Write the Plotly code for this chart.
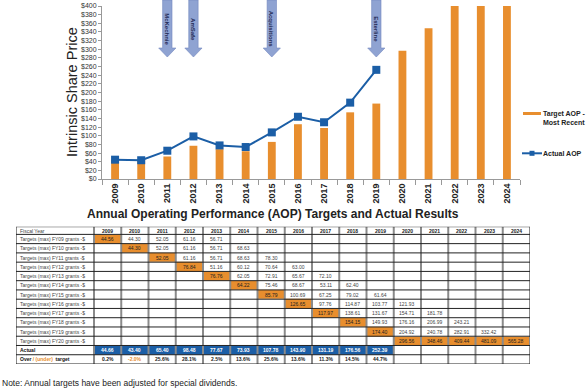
import plotly.graph_objects as go

# ---------------- data ----------------
years = [2009, 2010, 2011, 2012, 2013, 2014, 2015, 2016,
         2017, 2018, 2019, 2020, 2021, 2022, 2023, 2024]
year_labels = [str(y) for y in years]

target_recent = [44.56, 44.30, 52.05, 76.84, 69.0, 64.22, 85.79, 126.65,
                 117.97, 154.15, 174.40, 296.56, 348.46, 409.44, 481.09, 565.28]

actual_years = years[:11]
actual_aop = [44.66, 43.40, 65.40, 98.48, 77.67, 73.93, 107.78, 143.90,
              131.19, 176.56, 252.39]

events = ["McKechnie", "AmSafe", "Acquisitions", "Esterline"]
event_years = [2011, 2012, 2015, 2019]

series_names = ["Target AOP -<br>Most Recent", "Actual AOP"]

# table: each grant row starts at its own fiscal year, 5 values
grant_labels = ["Targets (max) FY%02d grants -$" % k for k in range(9, 21)]
grant_start = list(range(2009, 2021))
grant_values = [
    [44.56, 44.30, 52.05, 61.16, 56.71],
    [44.30, 52.05, 61.16, 56.71, 68.63],
    [52.05, 61.16, 56.71, 68.63, 78.30],
    [76.84, 51.16, 60.12, 70.64, 63.00],
    [76.76, 62.05, 72.91, 65.67, 72.10],
    [64.22, 75.46, 68.67, 53.11, 62.40],
    [85.79, 100.69, 67.25, 79.02, 61.64],
    [126.65, 97.76, 114.87, 103.77, 121.93],
    [117.97, 138.61, 131.67, 154.71, 181.78],
    [154.15, 149.93, 176.16, 206.99, 243.21],
    [174.40, 204.92, 240.78, 282.91, 332.42],
    [296.56, 348.46, 409.44, 481.09, 565.28],
]
over_under = ["0.2%", "-2.0%", "25.6%", "28.1%", "2.5%", "13.6%",
              "25.6%", "13.6%", "11.3%", "14.5%", "44.7%"]

ORANGE = "#E88E2E"
BLUE = "#1B5EA6"
ARROW = "#8FA3D2"
FONT = "Arial, Liberation Sans, sans-serif"
W, H = 588, 389


def px_x(p):
    return p / W


def px_y(p):
    return 1 - p / H


fig = go.Figure()

# ---------------- top chart ----------------
fig.add_trace(go.Bar(
    x=years, y=target_recent, name=series_names[0],
    marker=dict(color=ORANGE, line=dict(width=0)), width=0.3,
    hoverinfo="skip", showlegend=False))
fig.add_trace(go.Scatter(
    x=actual_years, y=actual_aop, name=series_names[1], mode="lines+markers",
    line=dict(color=BLUE, width=2),
    marker=dict(symbol="square", size=8, color=BLUE),
    hoverinfo="skip", showlegend=False))

shapes = []
annotations = []
hw, hh = 0.18, 0.33
yb, yt = px_y(48), px_y(57)
for name, ey in zip(events, event_years):
    path = (f"M {ey-hw},1 L {ey+hw},1 L {ey+hw},{yb} L {ey+hh},{yb} "
            f"L {ey},{yt} L {ey-hh},{yb} L {ey-hw},{yb} Z")
    shapes.append(dict(type="path", path=path, xref="x", yref="paper",
                       fillcolor=ARROW, line=dict(color="#7488C0", width=0.6),
                       layer="above"))
    annotations.append(dict(text="<b>%s</b>" % name, x=ey, xref="x",
                            y=px_y(29.5), yref="paper", textangle=90,
                            xanchor="center", yanchor="middle",
                            showarrow=False,
                            font=dict(family=FONT, size=6, color="#1F2A55")))

# y axis title
annotations.append(dict(text="Intrinsic Share Price", x=px_x(72), y=px_y(92),
                        xref="paper", yref="paper", textangle=-90,
                        xanchor="center", yanchor="middle",
                        showarrow=False,
                        font=dict(family=FONT, size=14.5, color="#222")))

# legend keys (drawn in paper space, right of the plot)
shapes.append(dict(type="rect", xref="paper", yref="paper",
                   x0=px_x(523), x1=px_x(541), y0=px_y(115), y1=px_y(112),
                   fillcolor=ORANGE, line=dict(width=0)))
shapes.append(dict(type="line", xref="paper", yref="paper",
                   x0=px_x(522), x1=px_x(542), y0=px_y(153.3), y1=px_y(153.3),
                   line=dict(color=BLUE, width=2)))
shapes.append(dict(type="rect", xref="paper", yref="paper",
                   x0=px_x(529.5), x1=px_x(534.5), y0=px_y(155.8), y1=px_y(150.8),
                   fillcolor=BLUE, line=dict(width=0)))
annotations.append(dict(text="<b>%s</b>" % series_names[0], x=px_x(540.5),
                        y=px_y(108), xref="paper", yref="paper",
                        xanchor="left", yanchor="top", align="left",
                        showarrow=False,
                        font=dict(family=FONT, size=7, color="#222")))
annotations.append(dict(text="<b>%s</b>" % series_names[1], x=px_x(540.5),
                        y=px_y(153.3), xref="paper", yref="paper",
                        xanchor="left", yanchor="middle", showarrow=False,
                        font=dict(family=FONT, size=7, color="#222")))

# ---------------- table (heatmap of cell fills) ----------------
L = 78 / 27.25
x_edges = [0, L] + [L + i + 1 for i in range(len(years))]
hdr = 0.83
n_rows = 1 + len(grant_labels) + 2
y_edges = [0, hdr] + [hdr + i + 1 for i in range(n_rows - 1)]

z = [[0] * (len(years) + 1) for _ in range(n_rows)]
cell_text = [[""] * (len(years) + 1) for _ in range(n_rows)]
cell_color = [["#444"] * (len(years) + 1) for _ in range(n_rows)]

cell_text[0][0] = "Fiscal Year"
for j, yl in enumerate(year_labels):
    cell_text[0][j + 1] = "<b>%s</b>" % yl
    cell_color[0][j + 1] = "#222"
for r, (lab, st, vals) in enumerate(zip(grant_labels, grant_start, grant_values)):
    row = r + 1
    cell_text[row][0] = lab
    for k, v in enumerate(vals):
        col = years.index(st) + k + 1
        cell_text[row][col] = "%.2f" % v
        if k == 0 or st == 2020:
            z[row][col] = 1
            cell_color[row][col] = "#222"
ra = len(grant_labels) + 1
cell_text[ra][0] = "<b>Actual</b>"
cell_color[ra][0] = "#111"
for k, v in enumerate(actual_aop):
    z[ra][k + 1] = 2
    cell_text[ra][k + 1] = "<b>%.2f</b>" % v
    cell_color[ra][k + 1] = "white"
ro = ra + 1
cell_text[ro][0] = ("<b>Over <span style='color:%s'>/ (under)</span>  target</b>"
                    % ORANGE)
cell_color[ro][0] = "#111"
for k, v in enumerate(over_under):
    cell_text[ro][k + 1] = "<b>%s</b>" % v
    cell_color[ro][k + 1] = ORANGE if v.startswith("-") else "#222"

fig.add_trace(go.Heatmap(
    z=z, x=x_edges, y=y_edges, xaxis="x2", yaxis="y2",
    zmin=0, zmax=2, showscale=False, hoverinfo="skip",
    colorscale=[[0, "white"], [0.25, "white"], [0.25, ORANGE],
                [0.75, ORANGE], [0.75, BLUE], [1, BLUE]]))

for xe in x_edges:
    shapes.append(dict(type="line", xref="x2", yref="y2", x0=xe, x1=xe,
                       y0=0, y1=y_edges[-1], line=dict(color="#8a8a8a", width=2)))
for ye in y_edges:
    shapes.append(dict(type="line", xref="x2", yref="y2", x0=0, x1=x_edges[-1],
                       y0=ye, y1=ye, line=dict(color="#222", width=1)))

for i in range(n_rows):
    yc = (y_edges[i] + y_edges[i + 1]) / 2
    for j in range(len(years) + 1):
        t = cell_text[i][j]
        if not t:
            continue
        if j == 0:
            annotations.append(dict(text=t, x=0.06, xref="x2", y=yc, yref="y2",
                                    xanchor="left", showarrow=False,
                                    font=dict(family=FONT, size=5,
                                              color=cell_color[i][j])))
        else:
            xc = (x_edges[j] + x_edges[j + 1]) / 2
            annotations.append(dict(text=t, x=xc, xref="x2", y=yc, yref="y2",
                                    showarrow=False,
                                    font=dict(family=FONT, size=5,
                                              color=cell_color[i][j])))

annotations.append(dict(
    text="<b>Annual Operating Performance (AOP) Targets and Actual Results</b>",
    x=px_x(273), y=px_y(214), xref="paper", yref="paper", showarrow=False,
    xanchor="center", yanchor="middle",
    font=dict(family=FONT, size=12, color="#222")))
annotations.append(dict(
    text="Note: Annual targets have been adjusted for special dividends.",
    x=0, xanchor="left", y=px_y(383), yanchor="middle",
    xref="paper", yref="paper",
    showarrow=False, font=dict(family=FONT, size=8.5, color="#222")))

fig.update_layout(
    width=W, height=H, template="none",
    margin=dict(l=0, r=0, t=0, b=0),
    paper_bgcolor="white", plot_bgcolor="white",
    font=dict(family=FONT, color="#222"),
    shapes=shapes, annotations=annotations,
    showlegend=False,
    xaxis=dict(domain=[px_x(102), px_x(520)], range=[2008.5, 2024.5],
               tickmode="array", tickvals=years, ticktext=year_labels,
               tickangle=-90, ticks="", showgrid=False, zeroline=False,
               showline=True, linecolor="#999", linewidth=1, automargin=False,
               tickfont=dict(family=FONT, size=9, color="#222", weight="bold"),
               minor=dict(tickmode="array",
                          tickvals=[y - 0.5 for y in years] + [years[-1] + 0.5],
                          ticks="outside", ticklen=5, tickcolor="#999",
                          showgrid=False)),
    yaxis=dict(domain=[1 - 179 / H, 1 - 6 / H], range=[0, 400], dtick=20,
               tickprefix="$", ticks="outside", ticklen=3, tickcolor="#999",
               showgrid=False, zeroline=False, showline=True, linecolor="#999",
               automargin=False,
               tickfont=dict(family=FONT, size=7, color="#333")),
    xaxis2=dict(domain=[px_x(16), px_x(530)], anchor="y2", visible=False,
                range=[0, x_edges[-1]], fixedrange=True),
    yaxis2=dict(domain=[px_y(364), px_y(226.7)], anchor="x2", visible=False,
                range=[y_edges[-1], 0], fixedrange=True),
)

fig.write_html("out.html", config={"displayModeBar": False},
               post_script="document.body.style.margin='0';")
